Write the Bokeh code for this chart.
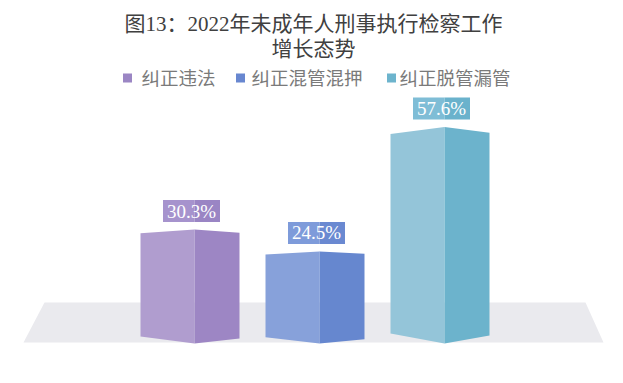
from bokeh.plotting import figure
from bokeh.models import Range1d
from bokeh.core.properties import value
from bokeh.embed import file_html
from bokeh.resources import INLINE

# ---- data ----
categories = ["纠正违法", "纠正混管混押", "纠正脱管漏管"]
values = [30.3, 24.5, 57.6]
labels = ["30.3%", "24.5%", "57.6%"]
title_lines = ["图13：2022年未成年人刑事执行检察工作", "增长态势"]

# ---- style ----
left_colors = ["#b09dcf", "#87a1da", "#94c5d9"]
right_colors = ["#9d86c4", "#6687cf", "#6cb3cc"]
label_left = ["#a693cd", "#7e9bda", "#7fbdd6"]
label_right = ["#9a85c4", "#6a89d1", "#6ab2cc"]
legend_colors = ["#9b86c4", "#6887d0", "#6db4cd"]
SERIF = "Liberation Serif, Noto Sans CJK SC"

W, H = 607, 367
CX0, STEP = 194.0, 125.0      # image px of first bar centre, spacing
Y0, K = 343.0, 3.76           # image px of value 0, px per unit


def px_x(px):
    return (px - CX0) / STEP


def px_y(py):
    return (Y0 - py) / K


p = figure(width=W, height=H, output_backend="svg", toolbar_location=None,
           x_range=Range1d(px_x(0), px_x(W)),
           y_range=Range1d(px_y(H), px_y(0)),
           min_border=0, outline_line_color=None,
           x_axis_location=None, y_axis_location=None)
p.grid.visible = False
p.background_fill_color = "white"
p.border_fill_color = "white"

# floor
fx = [px_x(44), px_x(585), px_x(603), px_x(23)]
fy = [px_y(302), px_y(302), px_y(342), px_y(342)]
p.patch(fx, fy, fill_color="#eaeaee", line_color=None)

# bars as two-faced prisms
lw, rw = 54 / STEP, 45 / STEP
lx, ly, rx, ry = [], [], [], []
for i, v in enumerate(values):
    h = v * K
    tl, tr = 0.033 * h / K, 0.027 * h / K
    bl, br = (3.5 + 0.03 * h) / K, (1.5 + 0.03 * h) / K
    xl, xm, xr = i - lw, i, i + rw
    lx.append([xl, xm, xm, xl]); ly.append([bl, 0, v, v - tl])
    rx.append([xm, xr, xr, xm]); ry.append([0, br, v - tr, v])
p.patches(lx, ly, fill_color=left_colors, line_color=None)
p.patches(rx, ry, fill_color=right_colors, line_color=None)

# value labels
bw = 57 / STEP
cx = [i - 3 / STEP for i in range(len(values))]
bot = [v + 7.5 / K for v in values]
top = [b + 22 / K for b in bot]
p.quad(left=[c - bw / 2 for c in cx], right=list(range(len(values))), bottom=bot, top=top,
       fill_color=label_left, line_color=None)
p.quad(left=list(range(len(values))), right=[c + bw / 2 for c in cx], bottom=bot, top=top,
       fill_color=label_right, line_color=None)
p.text(x=cx, y=[(b + t) / 2 for b, t in zip(bot, top)], text=labels,
       text_font=value(SERIF), text_font_size="19px", text_color="white",
       text_align="center", text_baseline="middle")

# title
p.text(x=[px_x(313)] * 2, y=[px_y(23), px_y(48)], text=title_lines,
       text_font=value(SERIF), text_font_size="21px", text_color="#404040",
       text_align="center", text_baseline="middle")

# legend
sq_x = [px_x(127), px_x(240), px_x(391)]
tx_x = [px_x(141), px_x(251), px_x(399)]
p.scatter(x=sq_x, y=[px_y(77.5)] * 3, marker="square", size=9,
          fill_color=legend_colors, line_color=None)
p.text(x=tx_x, y=[px_y(78)] * 3, text=categories,
       text_font=value(SERIF), text_font_size="18.5px", text_color="#7a7a7a",
       text_align="left", text_baseline="middle")

open("out.html", "w").write(file_html(p, INLINE))
